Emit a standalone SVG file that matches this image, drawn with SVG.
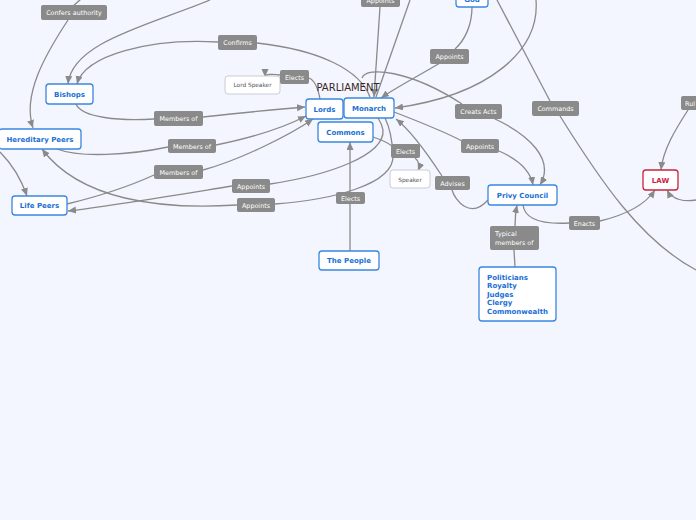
<svg xmlns="http://www.w3.org/2000/svg" width="696" height="520" viewBox="0 0 696 520">
<defs>
<marker id="arr" markerUnits="userSpaceOnUse" markerWidth="9" markerHeight="8" refX="8" refY="3.5" orient="auto">
<path d="M0,0 L8,3.5 L0,7 z" fill="#8a8a8a"/>
</marker>
</defs>
<style>
.bg{fill:#f3f6fe}
.c path{fill:none;stroke:#8a8a8a;stroke-width:1.3}
.c path.a{marker-end:url(#arr)}
.n rect{fill:#fff;stroke:#3a86e2;stroke-width:1.3}
.n text{font-family:"DejaVu Sans",Verdana,sans-serif;font-size:7px;font-weight:bold;fill:#1a6fd6;text-anchor:middle}
.law rect{stroke:#c9243f}
.law text{fill:#c9243f}
.s rect{fill:#fff;stroke:#c9ccd8;stroke-width:1}
.s text{font-family:"DejaVu Sans",Verdana,sans-serif;font-size:5.8px;fill:#555;text-anchor:middle}
.l rect{fill:#8a8a8a}
.l text{font-family:"DejaVu Sans",Verdana,sans-serif;font-size:6.4px;fill:#fff;text-anchor:middle}
.t{font-family:"DejaVu Sans",Verdana,sans-serif;font-size:10px;fill:#3a2626;text-anchor:middle}
</style>
<rect class="bg" x="0" y="0" width="696" height="520"/>
<g id="connectors" class="c">
<path d="M 81 -1 L 72 7"/>
<path class="a" d="M 68 20 C 45 55, 22 95, 33 128"/>
<path class="a" d="M 0 152 Q 18 170 27 196"/>
<path class="a" d="M 210 0 C 150 25, 72 42, 68 84"/>
<path class="a" d="M 218 42 C 150 38, 85 55, 77 84"/>
<path d="M 257 43 C 320 50, 360 70, 370 97"/>
<path d="M 320 99 C 318 88, 314 80, 309 78"/>
<path class="a" d="M 281 75 Q 265 73 265 77"/>
<path d="M 76 104 C 82 118, 120 121, 154 119"/>
<path class="a" d="M 203 117 C 240 113, 280 109, 305 107"/>
<path d="M 57 149 C 80 158, 130 155, 168 147"/>
<path class="a" d="M 216 145 C 250 138, 285 127, 306 116"/>
<path d="M 67 204 C 100 196, 130 186, 154 175"/>
<path class="a" d="M 203 170 C 240 160, 290 135, 313 119"/>
<path class="a" d="M 232 186 C 170 196, 110 206, 68 211"/>
<path d="M 270 184 C 330 175, 385 155, 383 130 C 382 124, 380 121, 378 118"/>
<path class="a" d="M 237 205 C 160 210, 80 200, 42 149"/>
<path d="M 275 204 C 330 200, 395 185, 393 155 C 392 135, 388 124, 385 118"/>
<path d="M 394 112 C 420 122, 445 132, 462 141"/>
<path class="a" d="M 499 151 C 515 158, 530 168, 533 185"/>
<path d="M 362 78 C 366 66, 410 70, 462 104"/>
<path class="a" d="M 493 118 C 530 135, 555 160, 540 185"/>
<path d="M 472 7 C 472 25, 465 40, 455 49"/>
<path class="a" d="M 440 63 C 420 75, 395 88, 381 98"/>
<path class="a" d="M 536 0 C 540 50, 490 95, 395 108"/>
<path class="a" d="M 380 7 L 374 97"/>
<path d="M 410 0 L 376 97"/>
<path d="M 497 0 L 550 101"/>
<path d="M 560 116 C 600 180, 640 240, 696 270"/>
<path d="M 350 251 L 350 204"/>
<path class="a" d="M 350 192 L 350 142"/>
<path d="M 373 137 C 382 140, 388 143, 392 146"/>
<path class="a" d="M 415 158 C 420 162, 420 166, 418 171"/>
<path d="M 488 200 C 470 220, 455 200, 452 190"/>
<path class="a" d="M 442 176 C 425 150, 410 130, 396 119"/>
<path d="M 515 267 L 514 250"/>
<path class="a" d="M 515 226 C 515 215, 516 210, 517 205"/>
<path d="M 523 205 C 525 222, 550 224, 569 223"/>
<path class="a" d="M 600 221 C 625 215, 645 205, 655 190"/>
<path class="a" d="M 696 200 C 685 202, 672 200, 667 190"/>
<path class="a" d="M 688 110 C 675 130, 663 150, 661 170"/>
</g>
<text class="t" x="348" y="91">PARLIAMENT</text>
<g id="god" class="n"><rect x="456" y="-14" width="32" height="21" rx="3"/><text x="472" y="2">God</text></g>
<g id="bishops" class="n"><rect x="46" y="84" width="47" height="20" rx="3"/><text x="69.5" y="96.5">Bishops</text></g>
<g id="hereditary" class="n"><rect x="-1" y="129" width="82" height="20" rx="3"/><text x="40" y="141.5">Hereditary Peers</text></g>
<g id="lifepeers" class="n"><rect x="12" y="196" width="55" height="19" rx="3"/><text x="39.5" y="208">Life Peers</text></g>
<g id="lords" class="n"><rect x="306" y="99" width="37" height="20" rx="3"/><text x="324.5" y="111.5">Lords</text></g>
<g id="monarch" class="n"><rect x="344" y="98" width="50" height="20" rx="3"/><text x="369" y="110.5">Monarch</text></g>
<g id="commons" class="n"><rect x="318" y="122" width="55" height="20" rx="3"/><text x="345.5" y="134.5">Commons</text></g>
<g id="people" class="n"><rect x="319" y="251" width="60" height="19" rx="3"/><text x="349" y="263">The People</text></g>
<g id="privy" class="n"><rect x="488" y="185" width="69" height="20" rx="3"/><text x="522.5" y="197.5">Privy Council</text></g>
<g id="members" class="n"><rect x="479" y="267" width="77" height="54" rx="3"/>
<text x="487" y="279.5" style="text-anchor:start">Politicians</text>
<text x="487" y="288" style="text-anchor:start">Royalty</text>
<text x="487" y="296.5" style="text-anchor:start">Judges</text>
<text x="487" y="305" style="text-anchor:start">Clergy</text>
<text x="487" y="313.5" style="text-anchor:start">Commonwealth</text></g>
<g id="law" class="n law"><rect x="643" y="170" width="35" height="20" rx="3"/><text x="660.5" y="182.5">LAW</text></g>
<g id="lordspeaker" class="s"><rect x="225" y="76" width="55" height="18" rx="3"/><text x="252.5" y="87">Lord Speaker</text></g>
<g id="speaker" class="s"><rect x="390" y="170" width="40" height="18" rx="3"/><text x="410" y="181.5">Speaker</text></g>
<g id="labels" class="l">
<rect x="41" y="5" width="66" height="15" rx="2"/><text x="74" y="14.5">Confers authority</text>
<rect x="218" y="35" width="39" height="15" rx="2"/><text x="237.5" y="44.5">Confirms</text>
<rect x="280" y="70" width="29" height="14" rx="2"/><text x="294.5" y="79.5">Elects</text>
<rect x="361" y="-6" width="39" height="13" rx="2"/><text x="380.5" y="3">Appoints</text>
<rect x="430" y="49" width="39" height="15" rx="2"/><text x="449.5" y="58.5">Appoints</text>
<rect x="154" y="111" width="49" height="15" rx="2"/><text x="178.5" y="120.5">Members of</text>
<rect x="168" y="139" width="48" height="14" rx="2"/><text x="192" y="148.5">Members of</text>
<rect x="154" y="165" width="49" height="14" rx="2"/><text x="178.5" y="174.5">Members of</text>
<rect x="232" y="179" width="38" height="14" rx="2"/><text x="251" y="188.5">Appoints</text>
<rect x="237" y="198" width="38" height="14" rx="2"/><text x="256" y="207.5">Appoints</text>
<rect x="455" y="104" width="47" height="15" rx="2"/><text x="478.5" y="113.5">Creats Acts</text>
<rect x="532" y="101" width="47" height="15" rx="2"/><text x="555.5" y="110.5">Commands</text>
<rect x="461" y="139" width="38" height="14" rx="2"/><text x="480" y="148.5">Appoints</text>
<rect x="391" y="144" width="29" height="14" rx="2"/><text x="405.5" y="153.5">Elects</text>
<rect x="435" y="176" width="35" height="14" rx="2"/><text x="452.5" y="185.5">Advises</text>
<rect x="336" y="192" width="29" height="12" rx="2"/><text x="350.5" y="200.5">Elects</text>
<rect x="490" y="226" width="49" height="24" rx="2"/><text x="495" y="236" style="text-anchor:start">Typical</text><text x="495" y="245" style="text-anchor:start">members of</text>
<rect x="569" y="216" width="31" height="14" rx="2"/><text x="584.5" y="225.5">Enacts</text>
<rect x="681" y="96" width="20" height="14" rx="2"/><text x="685" y="105.5" style="text-anchor:start">Rul</text>
</g>
</svg>
